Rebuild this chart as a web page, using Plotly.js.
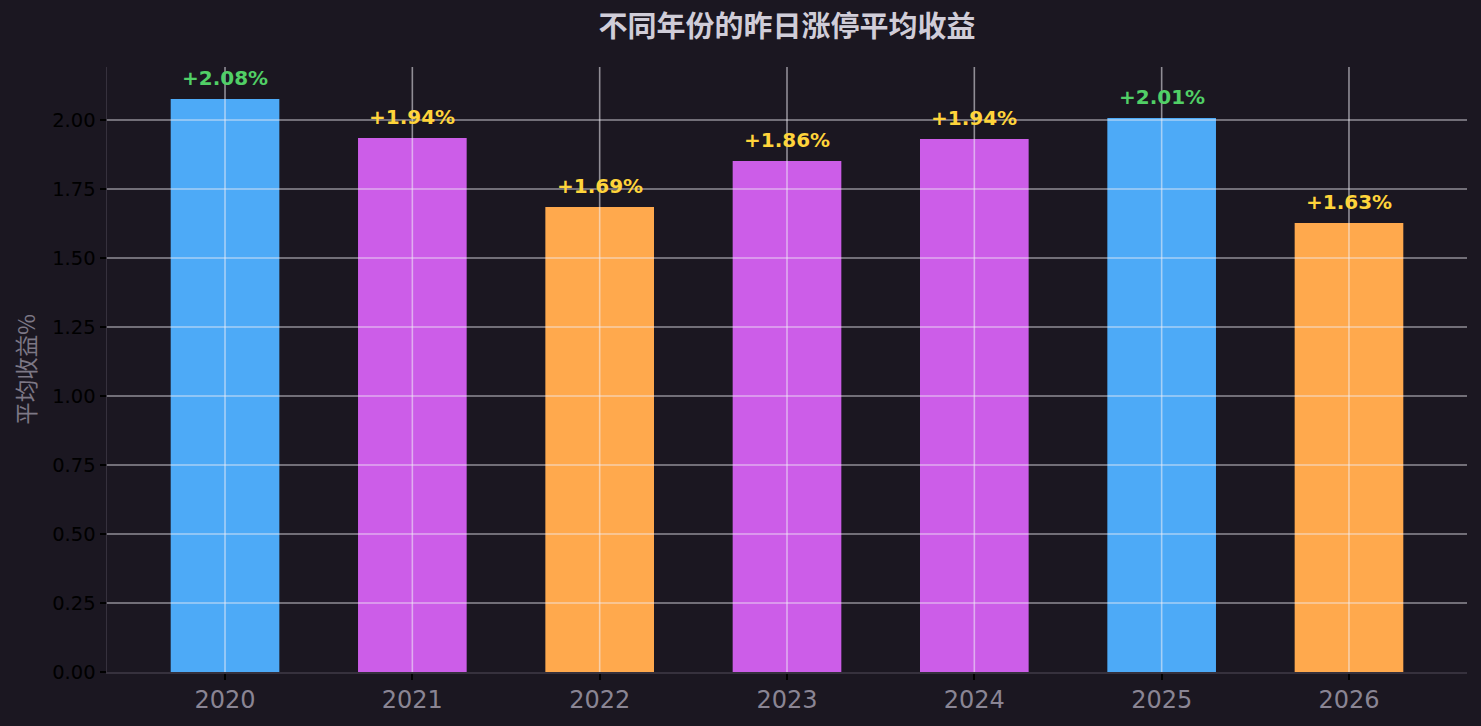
<!DOCTYPE html>
<html>
<head>
<meta charset="utf-8">
<script src="https://cdn.plot.ly/plotly-3.0.1.min.js"></script>
<style>
  html, body { margin: 0; padding: 0; background: #1b1721; }
  #chart { width: 1481px; height: 726px; }
</style>
</head>
<body>
<div id="chart"></div>
<script>
const years = ['2020', '2021', '2022', '2023', '2024', '2025', '2026'];
const avgReturn = [2.076, 1.935, 1.685, 1.851, 1.931, 2.007, 1.627];
const returnLabels = ['+2.08%', '+1.94%', '+1.69%', '+1.86%', '+1.94%', '+2.01%', '+1.63%'];
const yTicks = [0, 0.25, 0.5, 0.75, 1, 1.25, 1.5, 1.75, 2];

const barColor = v => v >= 2 ? '#4daaf7' : (v >= 1.75 ? '#cc5de8' : '#ffa94d');
const labelColor = v => v >= 2 ? '#51cf66' : '#ffd43b';
const xIdx = years.map((_, i) => i);

const bars = {
  x: xIdx,
  y: avgReturn,
  type: 'bar',
  width: 0.58,
  marker: { color: avgReturn.map(barColor) },
  hoverinfo: 'skip'
};

// matplotlib draws the grid over the bars, so use shapes on top
const gridColor = 'rgba(240,238,245,0.55)';
const gridShapes = [
  ...yTicks.slice(1).map(v => ({
    type: 'line', xref: 'paper', yref: 'y', x0: 0, x1: 1, y0: v, y1: v,
    line: { color: gridColor, width: 1.6 }, layer: 'above'
  })),
  ...xIdx.map(i => ({
    type: 'line', xref: 'x', yref: 'paper', x0: i, x1: i, y0: 0, y1: 1,
    line: { color: gridColor, width: 1.6 }, layer: 'above'
  }))
];

const valueNotes = avgReturn.map((v, i) => ({
  x: i, y: v, xref: 'x', yref: 'y',
  text: returnLabels[i],
  showarrow: false,
  yanchor: 'middle', yshift: 21,
  font: { family: 'DejaVu Sans', size: 20, weight: 'bold', color: labelColor(v) }
}));

const layout = {
  width: 1481,
  height: 726,
  margin: { l: 107, r: 14, t: 67, b: 54 },
  paper_bgcolor: '#1b1721',
  plot_bgcolor: '#1b1721',
  font: { family: 'DejaVu Sans, Noto Sans CJK SC', color: '#000000' },
  showlegend: false,
  title: {
    text: '不同年份的昨日涨停平均收益',
    font: { family: 'Noto Sans CJK SC', size: 29, weight: 'bold', color: '#d0cdd8' },
    xref: 'paper', x: 0.5, xanchor: 'center', y: 0.963, yanchor: 'middle'
  },
  xaxis: {
    range: [-0.63, 6.63],
    tickvals: xIdx,
    ticktext: years,
    tickfont: { size: 24, color: '#8a8594' },
    ticks: 'outside', ticklen: 6, tickwidth: 2, tickcolor: '#000000',
    showgrid: false,
    showline: true, linecolor: '#36313d', linewidth: 1.5,
    zeroline: false
  },
  yaxis: {
    range: [0, 2.192],
    tickvals: yTicks,
    tickformat: '.2f',
    tickfont: { size: 19.5, color: '#000000' },
    ticks: 'outside', ticklen: 6, tickwidth: 2, tickcolor: '#000000',
    showgrid: false,
    showline: true, linecolor: '#36313d', linewidth: 1.5,
    zeroline: false,
    title: {
      text: '平均收益%',
      font: { family: 'Noto Sans CJK SC', size: 22.5, color: '#7d7886' },
      standoff: 10
    }
  },
  shapes: gridShapes,
  annotations: valueNotes
};

Plotly.newPlot('chart', [bars], layout, { displayModeBar: false, staticPlot: true });
</script>
</body>
</html>
